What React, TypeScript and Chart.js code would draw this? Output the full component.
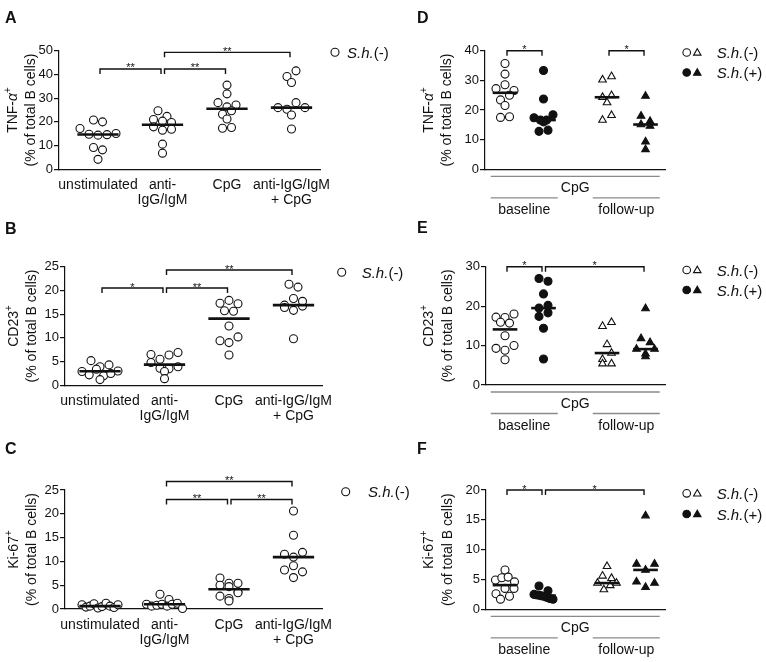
import React, { useEffect, useRef } from 'react';
import { Chart, registerables } from 'chart.js';

Chart.register(...registerables);

const FONT = '"Liberation Sans", Arial, Helvetica, sans-serif';
const INK = '#111';

// ---------------- categories / labels ----------------
const stimLabels: (string | string[])[] = ['unstimulated', ['anti-', 'IgG/IgM'], 'CpG', ['anti-IgG/IgM', '+ CpG']];
const stimPositions = [0, 1, 2, 3];
const cohortPositions = [0, 1, 2.65, 3.65];
const timeLabels = ['baseline', 'follow-up'];
const timeGroups = [[0, 1], [2, 3]];
const stimulusLabel = 'CpG';

// ---------------- A: TNF-α (S.h.(-)) ----------------
const tnfUnstim = [20.8, 20.0, 17.2, 14.8, 14.4, 14.6, 15.1, 9.2, 8.2, 4.2];
const tnfAnti = [24.7, 22.3, 21.0, 20.3, 19.7, 17.9, 16.5, 16.9, 10.6, 6.8];
const tnfCpg = [35.5, 31.8, 28.1, 26.3, 27.1, 23.2, 24.7, 21.2, 17.3, 17.6];
const tnfAntiCpg = [39.1, 41.5, 36.6, 26.0, 25.3, 28.1, 26.0, 22.9, 17.0];
const tnfTicks = [0, 10, 20, 30, 40, 50];
const tnfBrackets = [
  { from: 0, to: 1, y: 42.3, label: '**' },
  { from: 1, to: 2, y: 42.3, label: '**' },
  { from: 1, to: 3, y: 49.3, label: '**' },
];

// ---------------- B: CD23 (S.h.(-)) ----------------
const cd23Unstim = [5.2, 3.9, 4.3, 2.9, 2.2, 3.4, 2.0, 2.5, 3.0, 1.2];
const cd23Anti = [6.5, 5.5, 6.4, 6.9, 4.8, 3.6, 3.5, 3.9, 2.9, 1.4];
const cd23Cpg = [17.3, 17.9, 17.2, 15.7, 15.6, 12.5, 9.4, 9.0, 10.2, 6.4];
const cd23AntiCpg = [21.3, 20.7, 16.9, 16.4, 18.3, 15.8, 16.7, 17.7, 9.8];
const cd23Ticks = [0, 5, 10, 15, 20, 25];
const cd23Brackets = [
  { from: 0, to: 1, y: 20.5, label: '*' },
  { from: 1, to: 2, y: 20.5, label: '**' },
  { from: 1, to: 3, y: 24.3, label: '**' },
];

// ---------------- C: Ki-67 (S.h.(-)) ----------------
const ki67Unstim = [0.9, 0.4, 0.6, 1.1, 0.2, 0.5, 1.2, 0.6, 0.3, 0.9];
const ki67Anti = [3.1, 2.0, 1.0, 0.6, 0.8, 1.0, 0.6, 1.0, 1.2, 0.1];
const ki67Cpg = [6.5, 5.4, 5.0, 4.7, 5.4, 3.6, 2.7, 2.2, 3.4, 1.7];
const ki67AntiCpg = [20.6, 15.5, 11.5, 10.9, 11.9, 8.2, 9.1, 7.8, 6.6];
const ki67Ticks = [0, 5, 10, 15, 20, 25];
const ki67Brackets = [
  { from: 1, to: 2, y: 23.0, label: '**' },
  { from: 2, to: 3, y: 23.0, label: '**' },
  { from: 1, to: 3, y: 26.8, label: '**' },
];

// ---------------- D: TNF-α, CpG, baseline / follow-up ----------------
const tnfBaseNeg = [35.7, 32.1, 27.2, 28.5, 26.6, 23.4, 25.0, 21.5, 17.5, 17.7];
const tnfBasePos = [33.3, 23.7, 17.4, 16.6, 16.6, 18.4, 16.0, 12.8, 13.2];
const tnfFollowNeg = [30.2, 31.3, 24.3, 24.9, 22.5, 16.6, 18.2];
const tnfFollowPos = [24.7, 18.0, 16.2, 15.1, 14.6, 9.3, 6.7];
const tnfCohortTicks = [0, 10, 20, 30, 40];
const tnfCohortBrackets = [
  { from: 0, to: 1, y: 40, label: '*' },
  { from: 2, to: 3, y: 40, label: '*' },
];

// ---------------- E: CD23, CpG ----------------
const cd23BaseNeg = [17.2, 17.1, 18.0, 15.9, 15.7, 12.5, 9.3, 8.8, 10.0, 6.4];
const cd23BasePos = [27.0, 26.3, 23.1, 19.5, 20.2, 17.4, 18.3, 14.4, 6.6];
const cd23FollowNeg = [14.9, 15.9, 10.3, 6.5, 8.1, 5.4, 5.4];
const cd23FollowPos = [19.4, 11.8, 10.8, 9.1, 7.9, 9.1, 7.2];
const cd23CohortTicks = [0, 10, 20, 30];
const cd23CohortBrackets = [
  { from: 0, to: 1, y: 30, label: '*' },
  { from: 1, to: 3, y: 30, label: '*' },
];

// ---------------- F: Ki-67, CpG ----------------
const ki67BaseNeg = [6.6, 4.9, 5.3, 5.4, 4.6, 2.6, 3.5, 3.5, 1.7, 2.2];
const ki67BasePos = [3.9, 3.1, 2.5, 2.4, 2.3, 2.2, 2.0, 1.8, 1.7];
const ki67FollowNeg = [7.2, 5.6, 5.2, 4.4, 3.3, 4.0, 4.4];
const ki67FollowPos = [15.7, 7.6, 6.6, 7.6, 4.6, 3.7, 4.4];
const ki67CohortTicks = [0, 5, 10, 15, 20];
const ki67CohortBrackets = [
  { from: 0, to: 1, y: 20, label: '*' },
  { from: 1, to: 3, y: 20, label: '*' },
];

// ---------------- helpers ----------------
type Seg = { t: string; it?: boolean; sup?: boolean };
type Bracket = { from: number; to: number; y: number; label: string };
type Group = { values: number[]; style: 'circle' | 'triangle'; filled: boolean };
type PanelCfg = {
  letter: string;
  letterPos: [number, number];
  canvas: { left: number; top: number; width: number; height: number };
  area: { left: number; top: number; right: number; bottom: number };
  cat0: number;
  unit: number;
  positions: number[];
  groups: Group[];
  yTicks: number[];
  brackets: Bracket[];
  xLabels?: (string | string[])[];
  title: Seg[][];
  titleX: [number, number];
  legend: { type: 'single' | 'double'; x: number; y: number; textX: number; y2?: number; x2?: number };
  footer: boolean;
  maxHalf: number;
};

const negLabel: Seg[] = [{ t: 'S.h.', it: true }, { t: '(-)' }];
const posLabel: Seg[] = [{ t: 'S.h.', it: true }, { t: '(+)' }];
const titleUnit: Seg[] = [{ t: '(% of total B cells)' }];
const tnfTitle: Seg[] = [{ t: 'TNF-' }, { t: 'α', it: true }, { t: '+', sup: true }];
const cd23Title: Seg[] = [{ t: 'CD23' }, { t: '+', sup: true }];
const ki67Title: Seg[] = [{ t: 'Ki-67' }, { t: '+', sup: true }];

function segFont(s: Seg, size: number) {
  const sz = s.sup ? Math.round(size * 0.72) : size;
  return `${s.it ? 'italic ' : ''}${sz}px ${FONT}`;
}
function segsWidth(ctx: CanvasRenderingContext2D, segs: Seg[], size: number) {
  let w = 0;
  for (const s of segs) {
    ctx.font = segFont(s, size);
    w += ctx.measureText(s.t).width;
  }
  return w;
}
function drawSegs(ctx: CanvasRenderingContext2D, segs: Seg[], x: number, y: number, size: number, align: 'left' | 'center') {
  let cx = align === 'center' ? x - segsWidth(ctx, segs, size) / 2 : x;
  ctx.textAlign = 'left';
  ctx.textBaseline = 'alphabetic';
  for (const s of segs) {
    ctx.font = segFont(s, size);
    ctx.fillText(s.t, cx, s.sup ? y - size * 0.4 : y);
    cx += ctx.measureText(s.t).width;
  }
}
function median(arr: number[]) {
  const s = [...arr].sort((a, b) => a - b);
  const n = s.length;
  return n % 2 ? s[(n - 1) / 2] : (s[n / 2 - 1] + s[n / 2]) / 2;
}
const DOT = 9;
function swarm(values: number[], center: number, pxX: number, pxY: number, maxHalf: number) {
  const order = values.map((_, i) => i).sort((a, b) => values[b] - values[a]);
  const rows: number[][] = [];
  let cur: number[] = [];
  let start = 0;
  for (const i of order) {
    if (cur.length && (start - values[i]) * pxY < DOT * 0.75) cur.push(i);
    else {
      if (cur.length) rows.push(cur);
      cur = [i];
      start = values[i];
    }
  }
  if (cur.length) rows.push(cur);
  const xs: number[] = new Array(values.length).fill(center);
  for (const row of rows) {
    row.sort((a, b) => a - b);
    const n = row.length;
    let s = DOT;
    if (n > 1 && ((n - 1) * s) / 2 > maxHalf) s = (2 * maxHalf) / (n - 1);
    row.forEach((i, k) => {
      xs[i] = center + ((k - (n - 1) / 2) * s) / pxX;
    });
  }
  return values.map((v, i) => ({ x: xs[i], y: v }));
}

function drawMarker(ctx: CanvasRenderingContext2D, style: 'circle' | 'triangle', filled: boolean, x: number, y: number, r: number) {
  ctx.beginPath();
  if (style === 'circle') ctx.arc(x, y, r, 0, Math.PI * 2);
  else {
    ctx.moveTo(x, y - r);
    ctx.lineTo(x + r * 0.866, y + r * 0.5);
    ctx.lineTo(x - r * 0.866, y + r * 0.5);
    ctx.closePath();
  }
  ctx.fillStyle = filled ? INK : '#fff';
  ctx.fill();
  ctx.lineWidth = 1.1;
  ctx.strokeStyle = INK;
  ctx.stroke();
}

function makeDecor(cfg: PanelCfg) {
  return {
    id: 'decor' + cfg.letter,
    afterDraw(chart: any) {
      const ctx = chart.ctx as CanvasRenderingContext2D;
      const xs = chart.scales.x;
      const ys = chart.scales.y;
      const ox = cfg.canvas.left;
      const oy = cfg.canvas.top;
      ctx.save();
      ctx.fillStyle = INK;
      ctx.strokeStyle = INK;
      // panel letter
      ctx.font = `bold 16px ${FONT}`;
      ctx.textAlign = 'left';
      ctx.textBaseline = 'alphabetic';
      ctx.fillText(cfg.letter, cfg.letterPos[0] - ox, cfg.letterPos[1] - oy);
      // y title
      const cy = (cfg.area.top + cfg.area.bottom) / 2 - oy;
      cfg.title.forEach((segs, i) => {
        ctx.save();
        ctx.translate(cfg.titleX[i] - ox, cy);
        ctx.rotate(-Math.PI / 2);
        ctx.fillStyle = INK;
        drawSegs(ctx, segs, 0, 0, 14, 'center');
        ctx.restore();
      });
      // significance brackets
      for (const b of cfg.brackets) {
        const x1 = xs.getPixelForValue(cfg.positions[b.from]) + 2;
        const x2 = xs.getPixelForValue(cfg.positions[b.to]) - 1.5;
        const y = ys.getPixelForValue(b.y);
        ctx.lineWidth = 1.4;
        ctx.strokeStyle = INK;
        ctx.beginPath();
        ctx.moveTo(x1, y + 5);
        ctx.lineTo(x1, y);
        ctx.lineTo(x2, y);
        ctx.lineTo(x2, y + 5);
        ctx.stroke();
        ctx.fillStyle = INK;
        ctx.font = `11px ${FONT}`;
        ctx.textAlign = 'center';
        ctx.fillText(b.label, (x1 + x2) / 2, y + 2.5);
      }
      // legend
      const L = cfg.legend;
      if (L.type === 'single') {
        drawMarker(ctx, 'circle', false, L.x - ox, L.y - oy, 4);
        ctx.fillStyle = INK;
        drawSegs(ctx, negLabel, L.textX - ox, L.y - oy + 5.5, 15, 'left');
      } else {
        const rows: [boolean, Seg[], number][] = [
          [false, negLabel, L.y],
          [true, posLabel, L.y2 as number],
        ];
        for (const [filled, segs, ry] of rows) {
          drawMarker(ctx, 'circle', filled, L.x - ox, ry - oy, 3.8);
          drawMarker(ctx, 'triangle', filled, (L.x2 as number) - ox, ry - oy + 0.5, 4.3);
          ctx.fillStyle = INK;
          drawSegs(ctx, segs, L.textX - ox, ry - oy + 5.5, 15, 'left');
        }
      }
      // footer (stimulus / timepoint)
      if (cfg.footer) {
        const bottom = cfg.area.bottom - oy;
        const spans = timeGroups.map((g) => {
          const c = (cfg.positions[g[0]] + cfg.positions[g[1]]) / 2;
          return [xs.getPixelForValue(c - 0.87), xs.getPixelForValue(c + 0.87), xs.getPixelForValue(c)];
        });
        ctx.strokeStyle = '#8a8a8a';
        ctx.lineWidth = 1.3;
        ctx.beginPath();
        ctx.moveTo(spans[0][0], bottom + 7);
        ctx.lineTo(spans[spans.length - 1][1], bottom + 7);
        ctx.stroke();
        ctx.fillStyle = INK;
        ctx.font = `14px ${FONT}`;
        ctx.textAlign = 'center';
        ctx.fillText(stimulusLabel, (spans[0][0] + spans[spans.length - 1][1]) / 2, bottom + 23);
        spans.forEach((s, i) => {
          ctx.beginPath();
          ctx.moveTo(s[0], bottom + 28.5);
          ctx.lineTo(s[1], bottom + 28.5);
          ctx.stroke();
          ctx.fillText(timeLabels[i], s[2], bottom + 45);
        });
      }
      ctx.restore();
    },
  };
}

function buildConfig(cfg: PanelCfg): any {
  const { area, canvas } = cfg;
  const yMin = cfg.yTicks[0];
  const yMax = cfg.yTicks[cfg.yTicks.length - 1];
  const pxY = (area.bottom - area.top) / (yMax - yMin);
  const xMin = (area.left - cfg.cat0) / cfg.unit;
  const xMax = (area.right - cfg.cat0) / cfg.unit;
  const datasets: any[] = [];
  cfg.groups.forEach((g, i) => {
    const pos = cfg.positions[i];
    const m = median(g.values);
    datasets.push({
      data: [
        { x: pos - 0.32, y: m },
        { x: pos + 0.32, y: m },
      ],
      showLine: true,
      borderColor: INK,
      borderWidth: 2.6,
      borderCapStyle: 'butt',
      pointRadius: 0,
      clip: false,
      order: 1,
    });
    datasets.push({
      data: swarm(g.values, pos, cfg.unit, pxY, cfg.maxHalf),
      pointStyle: g.style,
      pointRadius: g.style === 'triangle' ? 4.4 : 4,
      pointBackgroundColor: g.filled ? INK : '#fff',
      pointBorderColor: INK,
      pointBorderWidth: 1.1,
      showLine: false,
      clip: false,
      order: 2,
    });
  });
  const catFont = { family: FONT, size: 14, lineHeight: 1.1 };
  const tickFont = { family: FONT, size: 13 };
  return {
    type: 'scatter',
    data: { datasets },
    plugins: [makeDecor(cfg)],
    options: {
      animation: false,
      responsive: false,
      maintainAspectRatio: false,
      devicePixelRatio: 1,
      events: [],
      layout: {
        padding: {
          left: 0,
          top: area.top - canvas.top,
          right: canvas.width - (area.right - canvas.left),
          bottom: 0,
        },
      },
      plugins: { legend: { display: false }, tooltip: { enabled: false } },
      scales: {
        x: {
          type: 'linear',
          min: xMin,
          max: xMax,
          grid: { display: false, drawTicks: false },
          border: { display: true, color: INK, width: 1.2 },
          ticks: {
            display: !!cfg.xLabels,
            autoSkip: false,
            maxRotation: 0,
            minRotation: 0,
            padding: 8,
            color: INK,
            font: catFont,
            callback: (_v: number, i: number) => (cfg.xLabels ? cfg.xLabels[i] : ''),
          },
          afterBuildTicks: (s: any) => {
            s.ticks = cfg.positions.map((v) => ({ value: v }));
          },
          afterFit: (s: any) => {
            s.height = canvas.height - (area.bottom - canvas.top);
          },
        },
        y: {
          type: 'linear',
          min: yMin,
          max: yMax,
          grid: { display: true, drawOnChartArea: false, drawTicks: true, tickLength: 5, color: INK, lineWidth: 1.2 },
          border: { display: true, color: INK, width: 1.2 },
          ticks: { padding: 1, color: INK, font: tickFont },
          afterBuildTicks: (s: any) => {
            s.ticks = cfg.yTicks.map((v) => ({ value: v }));
          },
          afterFit: (s: any) => {
            s.width = area.left - canvas.left;
          },
        },
      },
    },
  };
}

const stimGroups = (a: number[], b: number[], c: number[], d: number[]): Group[] => [
  { values: a, style: 'circle', filled: false },
  { values: b, style: 'circle', filled: false },
  { values: c, style: 'circle', filled: false },
  { values: d, style: 'circle', filled: false },
];
const cohortGroups = (a: number[], b: number[], c: number[], d: number[]): Group[] => [
  { values: a, style: 'circle', filled: false },
  { values: b, style: 'circle', filled: true },
  { values: c, style: 'triangle', filled: false },
  { values: d, style: 'triangle', filled: true },
];

const panels: PanelCfg[] = [
  {
    letter: 'A',
    letterPos: [5, 23],
    canvas: { left: 0, top: 0, width: 430, height: 220 },
    area: { left: 59, top: 50.7, right: 320, bottom: 169.3 },
    cat0: 98,
    unit: 64.5,
    positions: stimPositions,
    groups: stimGroups(tnfUnstim, tnfAnti, tnfCpg, tnfAntiCpg),
    yTicks: tnfTicks,
    brackets: tnfBrackets,
    xLabels: stimLabels,
    title: [tnfTitle, titleUnit],
    titleX: [17, 34.5],
    legend: { type: 'single', x: 335, y: 52.3, textX: 347 },
    footer: false,
    maxHalf: 18,
  },
  {
    letter: 'B',
    letterPos: [5, 233.5],
    canvas: { left: 0, top: 220, width: 430, height: 220 },
    area: { left: 65, top: 266.7, right: 322, bottom: 385.3 },
    cat0: 100,
    unit: 64.5,
    positions: stimPositions,
    groups: stimGroups(cd23Unstim, cd23Anti, cd23Cpg, cd23AntiCpg),
    yTicks: cd23Ticks,
    brackets: cd23Brackets,
    xLabels: stimLabels,
    title: [cd23Title, titleUnit],
    titleX: [18, 36],
    legend: { type: 'single', x: 341.7, y: 272.3, textX: 361.7 },
    footer: false,
    maxHalf: 18,
  },
  {
    letter: 'C',
    letterPos: [5, 453.5],
    canvas: { left: 0, top: 440, width: 430, height: 222 },
    area: { left: 65, top: 490, right: 322, bottom: 609 },
    cat0: 100,
    unit: 64.5,
    positions: stimPositions,
    groups: stimGroups(ki67Unstim, ki67Anti, ki67Cpg, ki67AntiCpg),
    yTicks: ki67Ticks,
    brackets: ki67Brackets,
    xLabels: stimLabels,
    title: [ki67Title, titleUnit],
    titleX: [18, 36],
    legend: { type: 'single', x: 345.7, y: 491.7, textX: 368 },
    footer: false,
    maxHalf: 18,
  },
  {
    letter: 'D',
    letterPos: [417, 23],
    canvas: { left: 410, top: 0, width: 356, height: 220 },
    area: { left: 485, top: 50.7, right: 665, bottom: 169.3 },
    cat0: 505,
    unit: 38.5,
    positions: cohortPositions,
    groups: cohortGroups(tnfBaseNeg, tnfBasePos, tnfFollowNeg, tnfFollowPos),
    yTicks: tnfCohortTicks,
    brackets: tnfCohortBrackets,
    title: [tnfTitle, titleUnit],
    titleX: [433, 451],
    legend: { type: 'double', x: 686.7, x2: 697.3, y: 52.5, y2: 72.5, textX: 716.7 },
    footer: true,
    maxHalf: 9.5,
  },
  {
    letter: 'E',
    letterPos: [417, 233],
    canvas: { left: 410, top: 220, width: 356, height: 220 },
    area: { left: 486, top: 266.7, right: 665, bottom: 385 },
    cat0: 505,
    unit: 38.5,
    positions: cohortPositions,
    groups: cohortGroups(cd23BaseNeg, cd23BasePos, cd23FollowNeg, cd23FollowPos),
    yTicks: cd23CohortTicks,
    brackets: cd23CohortBrackets,
    title: [cd23Title, titleUnit],
    titleX: [433, 452],
    legend: { type: 'double', x: 686.7, x2: 697.3, y: 270, y2: 290, textX: 716.7 },
    footer: true,
    maxHalf: 9.5,
  },
  {
    letter: 'F',
    letterPos: [417, 454],
    canvas: { left: 410, top: 440, width: 356, height: 222 },
    area: { left: 486, top: 490, right: 665, bottom: 609.3 },
    cat0: 505,
    unit: 38.5,
    positions: cohortPositions,
    groups: cohortGroups(ki67BaseNeg, ki67BasePos, ki67FollowNeg, ki67FollowPos),
    yTicks: ki67CohortTicks,
    brackets: ki67CohortBrackets,
    title: [ki67Title, titleUnit],
    titleX: [433, 452],
    legend: { type: 'double', x: 686.7, x2: 697.3, y: 493.3, y2: 514, textX: 716.7 },
    footer: true,
    maxHalf: 9.5,
  },
];

function Panel({ cfg }: { cfg: PanelCfg }) {
  const ref = useRef<HTMLCanvasElement>(null);
  useEffect(() => {
    if (!ref.current) return;
    const chart = new Chart(ref.current, buildConfig(cfg));
    return () => chart.destroy();
  }, [cfg]);
  return (
    <canvas
      ref={ref}
      width={cfg.canvas.width}
      height={cfg.canvas.height}
      style={{
        position: 'absolute',
        left: cfg.canvas.left,
        top: cfg.canvas.top,
        width: cfg.canvas.width,
        height: cfg.canvas.height,
      }}
    />
  );
}

export default function App() {
  return (
    <div style={{ position: 'absolute', left: 0, top: 0, width: 766, height: 662, background: '#fff', overflow: 'hidden' }}>
      {panels.map((p) => (
        <Panel key={p.letter} cfg={p} />
      ))}
    </div>
  );
}
